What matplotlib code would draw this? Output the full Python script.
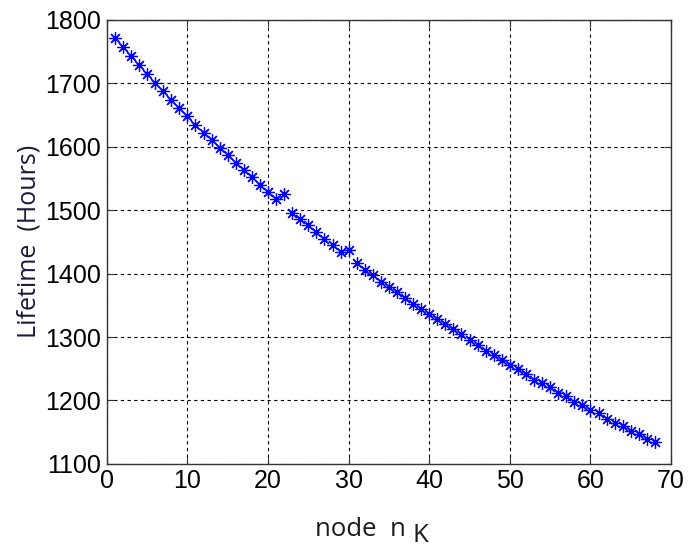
import numpy as np
import matplotlib
matplotlib.use("Agg")
from matplotlib import pyplot as plt

# node index and lifetime
nodes = np.arange(1, 69)
lifetime = [
    1771, 1757, 1743, 1728, 1714, 1700, 1687, 1673, 1661, 1648,
    1634, 1621, 1610, 1598, 1587, 1574, 1563, 1552, 1540, 1529,
    1517, 1526, 1496, 1486, 1476, 1465, 1455, 1445, 1434, 1437,
    1416, 1406, 1398, 1387, 1379, 1371, 1361, 1352, 1344, 1336,
    1328, 1320, 1312, 1304, 1295, 1287, 1278, 1272, 1264, 1256,
    1250, 1242, 1233, 1227, 1221, 1212, 1207, 1198, 1193, 1185,
    1180, 1171, 1165, 1159, 1152, 1147, 1140, 1134,
]
xticks = [0, 10, 20, 30, 40, 50, 60, 70]
yticks = [1100, 1200, 1300, 1400, 1500, 1600, 1700, 1800]

plt.rcParams['font.family'] = ['Liberation Sans', 'DejaVu Sans']

fig = plt.figure(figsize=(6.89, 5.49), dpi=100)
ax = fig.add_axes([0.155, 0.155, 0.819, 0.809])

# matlab-style asterisk: 8 arms plus a small dot in the middle
ax.plot(nodes, lifetime, linestyle='none', marker=(8, 2, 0), color='blue',
        markersize=9, markeredgewidth=0.9)
ax.plot(nodes, lifetime, linestyle='none', marker='o', color='blue',
        markersize=2.5)

ax.set_xlim(0, 70)
ax.set_ylim(1100, 1800)
ax.set_xticks(xticks)
ax.set_yticks(yticks)
ax.tick_params(direction='in', length=5, labelsize=18, top=True, right=True,
               color='#333333', pad=4)
ax.grid(True, color='black', linestyle=(0, (3, 3)), linewidth=0.8)
for s in ax.spines.values():
    s.set_color('#333333')
    s.set_linewidth(1.0)

ax.set_ylabel('Lifetime  (Hours)', fontsize=18, family=['Open Sans', 'DejaVu Sans'],
              color='#1a1a3a', labelpad=3)

# x label with a full-size, lowered "K"
fig.text(0.457, 0.024, 'node  n', fontsize=18.5, family=['Open Sans', 'DejaVu Sans'],
         color='#1a1a1a', ha='left', va='baseline')
fig.text(0.598, 0.012, 'K', fontsize=18.5, family=['Open Sans', 'DejaVu Sans'],
         color='#1a1a1a', ha='left', va='baseline')

fig.savefig('out.png', dpi=100)
